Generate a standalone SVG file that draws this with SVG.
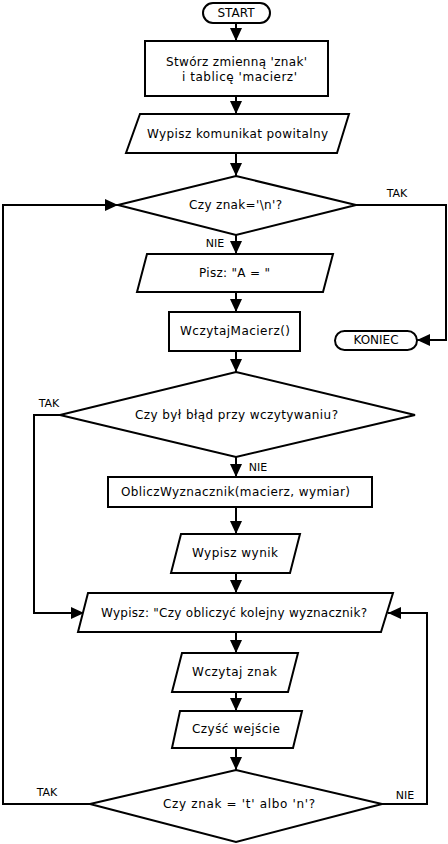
<svg xmlns="http://www.w3.org/2000/svg" width="448" height="844" viewBox="0 0 448 844">
<defs>
<marker id="ah" markerUnits="userSpaceOnUse" markerWidth="14" markerHeight="14" viewBox="0 0 14 14" refX="13" refY="7" orient="auto">
<path d="M0,1 L13,7 L0,13 Z" fill="#000"/>
</marker>
<style>
.s{fill:#fff;stroke:#000;stroke-width:2}
.c{fill:none;stroke:#000;stroke-width:2;marker-end:url(#ah)}
text{font-family:"DejaVu Sans","Liberation Sans",sans-serif;font-size:12px;fill:#000;text-anchor:middle;dominant-baseline:central}
.lb{font-size:11px}
</style>
</defs>
<rect width="448" height="844" fill="#fff"/>
<g id="connectors">
<line class="c" x1="236" y1="23" x2="236" y2="41"/>
<line class="c" x1="236" y1="96" x2="236" y2="114"/>
<line class="c" x1="236" y1="153" x2="236" y2="176"/>
<line class="c" x1="236" y1="235" x2="236" y2="254"/>
<line class="c" x1="236" y1="292" x2="236" y2="312"/>
<line class="c" x1="236" y1="351" x2="236" y2="372"/>
<line class="c" x1="236" y1="457" x2="236" y2="477"/>
<line class="c" x1="236" y1="507" x2="236" y2="534"/>
<line class="c" x1="236" y1="573" x2="236" y2="593"/>
<line class="c" x1="236" y1="632" x2="236" y2="653"/>
<line class="c" x1="236" y1="692" x2="236" y2="711"/>
<line class="c" x1="236" y1="748" x2="236" y2="770"/>
<polyline class="c" points="356,205 446,205 446,340 417,340"/>
<polyline class="c" points="60,415 34,415 34,613 84,613"/>
<polyline class="c" points="382,804 427,804 427,613 388,613"/>
<polyline class="c" points="90,804 3,804 3,205 118,205"/>
<text class="lb" x="397" y="193">TAK</text>
<text class="lb" x="215" y="243">NIE</text>
<text class="lb" x="49" y="403">TAK</text>
<text class="lb" x="258" y="467">NIE</text>
<text class="lb" x="47" y="792">TAK</text>
<text class="lb" x="405" y="795">NIE</text>
</g>
<g id="start"><rect class="s" x="203" y="3" width="67" height="20" rx="10"/><text x="236" y="13">START</text></g>
<g id="init"><rect class="s" x="145" y="41" width="183" height="55"/><text x="236.5" y="62" textLength="141" lengthAdjust="spacing">Stwórz zmienną 'znak'</text><text x="239.5" y="77" textLength="115" lengthAdjust="spacing">i tablicę 'macierz'</text></g>
<g id="welcome"><polygon class="s" points="140,114 349,114 337,153 126,153"/><text x="237.5" y="134" textLength="181" lengthAdjust="spacing">Wypisz komunikat powitalny</text></g>
<g id="dec1"><polygon class="s" points="236,176 356,205 236,235 118,205"/><text x="235.5" y="205" textLength="93" lengthAdjust="spacing">Czy znak='\n'?</text></g>
<g id="pisz"><polygon class="s" points="147,254 333,254 323,292 137,292"/><text x="234.5" y="273" textLength="71" lengthAdjust="spacing">Pisz: "A = "</text></g>
<g id="wczytaj"><rect class="s" x="169" y="312" width="131" height="39"/><text x="235" y="331" textLength="110" lengthAdjust="spacing">WczytajMacierz()</text></g>
<g id="koniec"><rect class="s" x="335" y="331" width="82" height="19" rx="9.5"/><text x="376" y="340">KONIEC</text></g>
<g id="dec2"><polygon class="s" points="236,372 415,415 236,457 60,415"/><text x="236.5" y="415" textLength="203" lengthAdjust="spacing">Czy był błąd przy wczytywaniu?</text></g>
<g id="oblicz"><rect class="s" x="108" y="477" width="264" height="30"/><text x="235.5" y="492" textLength="229" lengthAdjust="spacing">ObliczWyznacznik(macierz, wymiar)</text></g>
<g id="wynik"><polygon class="s" points="181,534 300,534 290,573 171,573"/><text x="235" y="553" textLength="86" lengthAdjust="spacing">Wypisz wynik</text></g>
<g id="pytanie"><polygon class="s" points="88,593 393,593 381,632 78,632"/><text x="234" y="613" textLength="266" lengthAdjust="spacing">Wypisz: "Czy obliczyć kolejny wyznacznik?</text></g>
<g id="znak"><polygon class="s" points="182,653 298,653 288,692 172,692"/><text x="234.5" y="672" textLength="85" lengthAdjust="spacing">Wczytaj znak</text></g>
<g id="czysc"><polygon class="s" points="180,711 302,711 293,748 172,748"/><text x="236" y="729" textLength="88" lengthAdjust="spacing">Czyść wejście</text></g>
<g id="dec3"><polygon class="s" points="236,770 382,804 236,842 90,804"/><text x="239" y="804" textLength="152" lengthAdjust="spacing">Czy znak = 't' albo 'n'?</text></g>
</svg>
